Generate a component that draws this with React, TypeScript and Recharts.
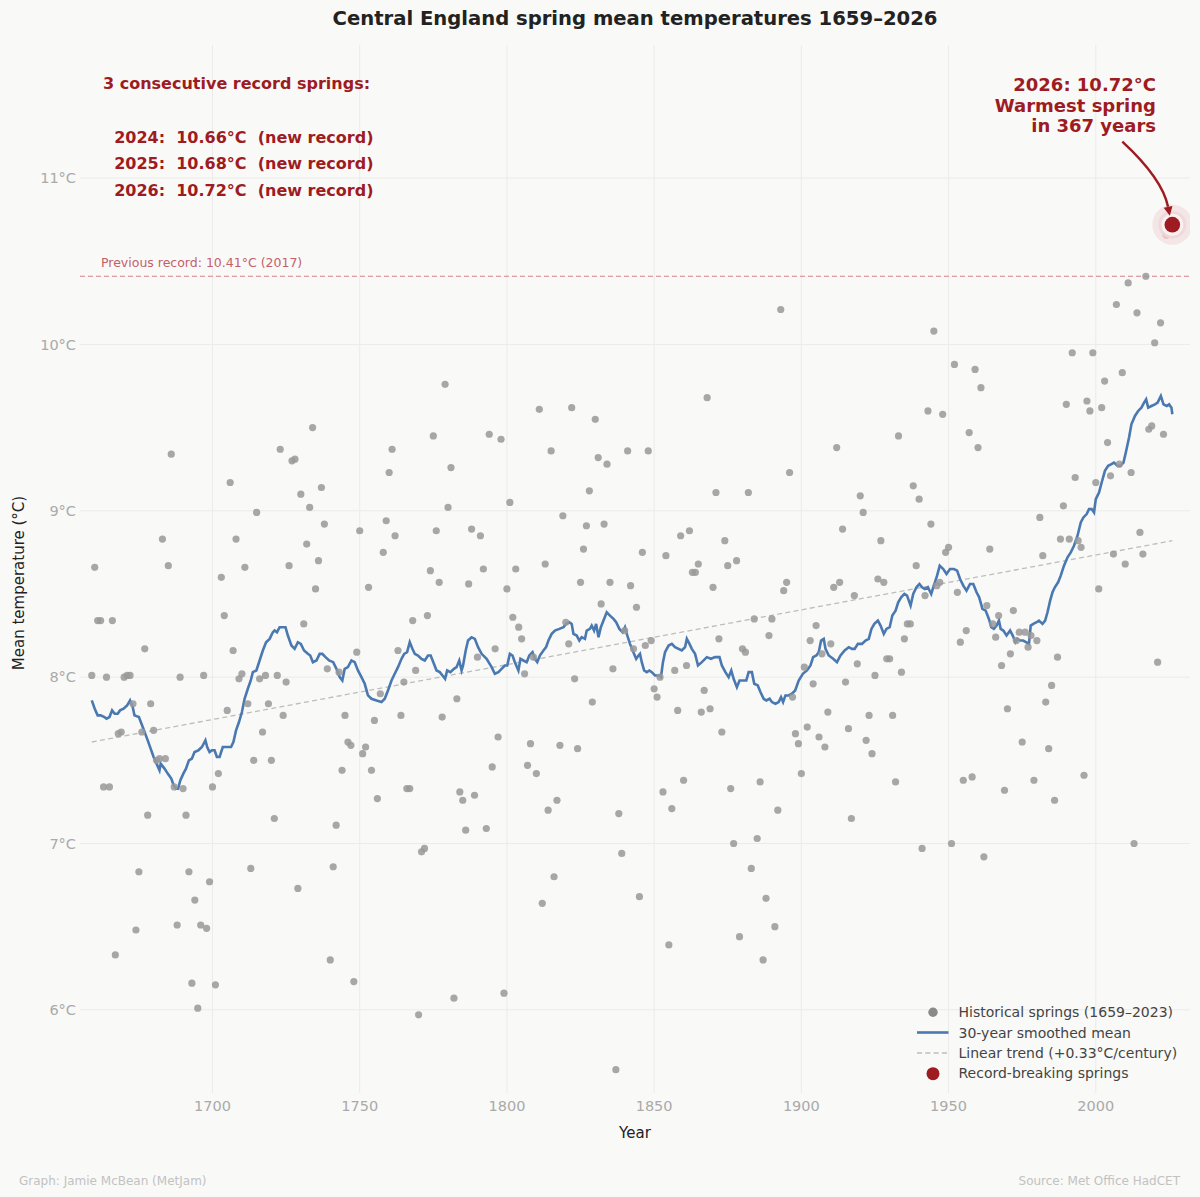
import React from 'react';
import { ComposedChart, Scatter, Line, XAxis, YAxis, CartesianGrid, ReferenceLine } from 'recharts';

const FONT = '"DejaVu Sans", sans-serif';
const BG = '#f9f9f7';
const RED = '#9e1b22';

const FIRST_YEAR = 1659;
// Historical spring mean temperatures, 1659–2023 (one value per year)
const histTemps = [
  8.01, 8.66, 8.34, 8.34, 7.34, 8.0, 7.34, 8.34, 6.33, 7.66, // 1659-1668
  7.67, 8.0, 8.01, 8.01, 7.84, 6.48, 6.83, 7.67, 8.17, 7.17, // 1669-1678
  7.84, 7.68, 7.5, 7.51, 8.83, 7.51, 8.67, 9.34, 7.34, 6.51, // 1679-1688
  8.0, 7.33, 7.17, 6.83, 6.16, 6.66, 6.01, 6.51, 8.01, 6.49, // 1689-1698
  6.77, 7.34, 6.15, 7.42, 8.6, 8.37, 7.8, 9.17, 8.16, 8.83, // 1699-1708
  7.99, 8.02, 8.66, 7.84, 6.85, 7.5, 8.99, 7.99, 7.67, 8.01, // 1709-1718
  7.84, 7.5, 7.15, 8.01, 9.37, 7.77, 7.97, 8.67, 9.3, 9.31, // 1719-1728
  6.73, 9.1, 8.32, 8.8, 9.02, 9.5, 8.53, 8.7, 9.14, 8.92, // 1729-1738
  8.05, 6.3, 6.86, 7.11, 8.03, 7.44, 7.77, 7.61, 7.59, 6.17, // 1739-1748
  8.15, 8.88, 7.54, 7.58, 8.54, 7.44, 7.74, 7.27, 7.9, 8.75, // 1749-1758
  8.94, 9.23, 9.37, 8.85, 8.16, 7.77, 7.97, 7.33, 7.33, 8.34, // 1759-1768
  8.04, 5.97, 6.95, 6.97, 8.37, 8.64, 9.45, 8.88, 8.57, 7.76, // 1769-1778
  9.76, 9.02, 9.26, 6.07, 7.87, 7.31, 7.26, 7.08, 8.56, 8.89, // 1779-1788
  7.29, 8.12, 8.85, 8.65, 7.09, 9.46, 7.46, 8.17, 7.64, 9.43, // 1789-1798
  6.1, 8.53, 9.05, 8.36, 8.65, 8.3, 8.23, 8.02, 7.47, 7.6, // 1799-1808
  8.12, 7.42, 9.61, 6.64, 8.68, 7.2, 9.36, 6.8, 7.26, 7.59, // 1809-1818
  8.97, 8.33, 8.2, 9.62, 7.99, 7.57, 8.57, 8.77, 8.91, 9.12, // 1819-1828
  7.85, 9.55, 9.32, 8.44, 8.92, 9.28, 8.57, 8.05, 5.64, 7.18, // 1829-1838
  6.94, 8.28, 9.36, 8.55, 8.17, 8.42, 6.68, 8.75, 8.19, 9.36, // 1839-1848
  8.22, 7.93, 7.88, 8.0, 7.31, 8.73, 6.39, 7.21, 8.04, 7.8, // 1849-1858
  8.85, 7.38, 8.07, 8.88, 8.63, 8.63, 8.68, 7.79, 7.92, 9.68, // 1859-1868
  7.81, 8.54, 9.11, 8.23, 7.67, 8.82, 8.67, 7.33, 7.0, 8.7, // 1869-1878
  6.44, 8.17, 8.15, 9.11, 6.85, 8.35, 7.03, 7.37, 6.3, 6.67, // 1879-1888
  8.25, 8.35, 6.5, 7.2, 10.21, 8.52, 8.57, 9.23, 7.88, 7.66, // 1889-1898
  7.6, 7.42, 8.06, 7.7, 8.22, 7.96, 8.31, 7.64, 8.14, 7.58, // 1899-1908
  7.79, 8.2, 8.54, 9.38, 8.57, 8.89, 7.97, 7.69, 7.15, 8.49, // 1909-1918
  8.08, 9.09, 8.99, 7.62, 7.77, 7.54, 8.01, 8.59, 8.82, 8.57, // 1919-1928
  8.11, 8.11, 7.77, 7.37, 9.45, 8.03, 8.23, 8.32, 8.32, 9.15, // 1929-1938
  8.67, 9.07, 6.97, 8.49, 9.6, 8.92, 10.08, 8.55, 8.57, 9.58, // 1939-1948
  8.75, 8.78, 7.0, 9.88, 8.51, 8.21, 7.38, 8.28, 9.47, 7.4, // 1949-1958
  9.85, 9.38, 9.74, 6.92, 8.43, 8.77, 8.32, 8.24, 8.37, 8.07, // 1959-1968
  7.32, 7.81, 8.14, 8.4, 8.22, 8.27, 7.61, 8.27, 8.18, 8.25, // 1969-1978
  7.38, 8.22, 8.96, 8.73, 7.85, 7.57, 7.95, 7.26, 8.12, 8.83, // 1979-1988
  9.03, 9.64, 8.83, 9.95, 9.2, 8.82, 8.78, 7.41, 9.66, 9.6, // 1989-1998
  9.95, 9.17, 8.53, 9.62, 9.78, 9.41, 9.21, 8.74, 10.24, 9.28, // 1999-2008
  9.83, 8.68, 10.37, 9.23, 7.0, 10.19, 8.87, 8.74, 10.41, 9.49, // 2009-2018
  9.51, 10.01, 8.09, 10.13, 9.46, // 2019-2023
];

const recordYears = [2024, 2025, 2026];
const recordTemps = [10.66, 10.68, 10.72];

const trendYears = [1659, 2026];
const trendTemps = [7.61, 8.82];

const previousRecord = 10.41;

// 30-year smoothed mean
const smoothYears = [
  1659, 1660, 1661, 1662, 1663.3, 1664, 1665, 1665.9, 1666.8, 1667.8, 1668.6, 1669.8, 1671, 1672, 1672.9, 1673.5,
  1675, 1676.3, 1678, 1680, 1681, 1682, 1682.4, 1683.7, 1684.8, 1686, 1686.8, 1687.6, 1688.3, 1689.1, 1690.1, 1691,
  1692, 1693, 1693.9, 1695.2, 1696.4, 1697.6, 1698.2, 1699, 1699.8, 1700.7, 1701.5, 1702.4, 1703.5, 1704.6, 1706.3,
  1707.1, 1708, 1709, 1710, 1710.9, 1712, 1713, 1713.7, 1714.9, 1716, 1717.1, 1718.2, 1719.4, 1720.5, 1721.1, 1721.9,
  1722.8, 1723.9, 1724.8, 1725.6, 1726.8, 1727.9, 1729, 1730, 1731.1, 1732.4, 1733.2, 1734.1, 1735.3, 1736.4, 1737.3,
  1738.4, 1739.6, 1741, 1742.1, 1743.2, 1744.1, 1744.9, 1746, 1747.2, 1748.3, 1749.4, 1750.6, 1751.7, 1752.8, 1754,
  1755.7, 1757.4, 1758.5, 1759.6, 1760.8, 1761.9, 1763, 1764.2, 1765.1, 1766.1, 1767, 1767.9, 1768.7, 1769.8, 1771,
  1772.1, 1773.2, 1774.1, 1775, 1776.1, 1777.2, 1778.1, 1779, 1779.7, 1780.8, 1782, 1782.9, 1783.8, 1784.6, 1785.1,
  1786, 1786.8, 1788, 1789.1, 1790.2, 1791.4, 1793.1, 1794.8, 1795.9, 1797.1, 1798.2, 1799.3, 1800.1, 1801, 1801.9,
  1802.7, 1803.9, 1804.6, 1805.6, 1806.7, 1807.6, 1808.7, 1809.5, 1810.3, 1811.2, 1812.4, 1813.3, 1814.1, 1815.2,
  1816.3, 1817.8, 1819.2, 1820.1, 1821.2, 1822, 1822.6, 1823.7, 1824.6, 1825.4, 1826.5, 1827.1, 1828.2, 1828.8,
  1829.6, 1830.3, 1831.1, 1831.9, 1832.8, 1833.9, 1835, 1836.2, 1837.1, 1838.2, 1839.3, 1840.1, 1840.9, 1841.8,
  1842.7, 1843.9, 1844.7, 1845.2, 1845.8, 1846.6, 1847.5, 1848.4, 1849.2, 1850.3, 1851.5, 1852.3, 1853, 1853.7,
  1854.9, 1856, 1857.1, 1858.3, 1859.4, 1860.5, 1861.1, 1862, 1862.8, 1863.9, 1864.9, 1866.2, 1867.9, 1869.3, 1870.7,
  1872.2, 1873, 1874.2, 1875.3, 1876.2, 1877, 1878.1, 1879, 1880.2, 1881.3, 1882.1, 1883.2, 1884, 1885.2, 1886.1,
  1887.2, 1888.1, 1889.2, 1890, 1891.2, 1892.3, 1893.1, 1893.8, 1894.6, 1895.7, 1896.8, 1897.9, 1899.1, 1900.5,
  1901.9, 1903.1, 1904, 1905.1, 1905.9, 1906.7, 1907.6, 1908.2, 1909.3, 1910.8, 1912.1, 1913.3, 1914.7, 1916.1,
  1917.2, 1918.1, 1919.2, 1920.6, 1921.8, 1922.9, 1923.8, 1924.8, 1926, 1926.9, 1928, 1928.9, 1930, 1930.9, 1932,
  1932.9, 1933.9, 1935, 1935.9, 1937.1, 1938, 1939.1, 1940.1, 1941, 1941.9, 1943, 1944.1, 1945, 1946.1, 1947, 1948.2,
  1949.3, 1950.5, 1951.8, 1952.9, 1953.9, 1955, 1956.1, 1957.3, 1958.4, 1959.5, 1960.4, 1961.5, 1962.6, 1963.7,
  1964.5, 1965.4, 1966.3, 1967.1, 1967.7, 1968.6, 1969.7, 1970.9, 1971.8, 1972.7, 1973.4, 1974.3, 1975.3, 1976.3,
  1977.3, 1977.9, 1978.8, 1979.9, 1980.7, 1981.9, 1982.8, 1983.6, 1984.5, 1985.3, 1986.1, 1987.2, 1988.1, 1989.2,
  1990.4, 1991.5, 1992.6, 1993.8, 1994.9, 1995.8, 1996.9, 1997.7, 1998.6, 1999.4, 2000, 2001.1, 2002, 2003.1,
  2004.2, 2005.3, 2006.2, 2007.4, 2008.3, 2009.4, 2010.2, 2011.3, 2012.1, 2013.3, 2014.4, 2015.5, 2016.4, 2017.1,
  2017.8, 2018.9, 2020.1, 2021, 2022.1, 2023, 2024.1, 2024.9, 2025.7, 2026,
];
const smoothTemps = [
  7.86, 7.81, 7.77, 7.77, 7.76, 7.75, 7.76, 7.8, 7.78, 7.78, 7.8, 7.81, 7.83, 7.86, 7.82, 7.77,
  7.76, 7.7, 7.62, 7.52, 7.48, 7.44, 7.48, 7.45, 7.42, 7.39, 7.35, 7.33, 7.33, 7.38, 7.42, 7.45,
  7.5, 7.51, 7.55, 7.56, 7.58, 7.62, 7.58, 7.55, 7.56, 7.56, 7.52, 7.52, 7.58, 7.58, 7.58,
  7.61, 7.68, 7.73, 7.79, 7.87, 7.93, 7.98, 8.03, 8.04, 8.1, 8.16, 8.21, 8.23, 8.27, 8.28, 8.27,
  8.3, 8.3, 8.3, 8.25, 8.19, 8.17, 8.21, 8.2, 8.16, 8.14, 8.13, 8.09, 8.1, 8.14, 8.14,
  8.12, 8.1, 8.09, 8.05, 8.0, 7.98, 8.05, 8.06, 8.1, 8.09, 8.04, 8.0, 7.96, 7.89, 7.87,
  7.86, 7.85, 7.87, 7.92, 7.98, 8.02, 8.06, 8.11, 8.14, 8.15, 8.21, 8.17, 8.14, 8.13, 8.11,
  8.1, 8.13, 8.13, 8.09, 8.04, 8.03, 8.01, 7.99, 8.04, 8.03, 8.05, 8.06, 8.1, 8.04, 8.07,
  8.16, 8.22, 8.24, 8.23, 8.18, 8.14, 8.11, 8.06, 8.02, 8.03, 8.05, 8.07, 8.07, 8.14, 8.13,
  8.09, 8.04, 8.11, 8.1, 8.09, 8.13, 8.15, 8.11, 8.09, 8.13, 8.16, 8.18, 8.22, 8.26,
  8.28, 8.29, 8.3, 8.32, 8.33, 8.32, 8.26, 8.25, 8.22, 8.24, 8.23, 8.28, 8.29, 8.31,
  8.28, 8.32, 8.24, 8.3, 8.34, 8.39, 8.37, 8.35, 8.33, 8.29, 8.27, 8.3, 8.25, 8.2,
  8.16, 8.11, 8.13, 8.14, 8.09, 8.04, 8.03, 8.04, 8.03, 8.01, 8.01, 8.0, 8.09, 8.15,
  8.19, 8.2, 8.18, 8.17, 8.16, 8.18, 8.23, 8.2, 8.17, 8.14, 8.07, 8.09, 8.12, 8.11, 8.12,
  8.12, 8.07, 8.03, 8.0, 8.04, 7.99, 7.94, 7.98, 7.98, 7.98, 8.03, 8.03, 7.96, 7.95, 7.91,
  7.87, 7.86, 7.87, 7.85, 7.84, 7.85, 7.88, 7.85, 7.89, 7.89, 7.9, 7.92, 7.98, 8.02,
  8.04, 8.07, 8.12, 8.13, 8.15, 8.22, 8.23, 8.17, 8.13, 8.11, 8.09, 8.13, 8.16, 8.18,
  8.17, 8.17, 8.2, 8.2, 8.22, 8.23, 8.29, 8.32, 8.34, 8.31, 8.26, 8.29, 8.3, 8.37, 8.4,
  8.45, 8.48, 8.5, 8.49, 8.43, 8.5, 8.54, 8.56, 8.54, 8.53, 8.54, 8.5, 8.55, 8.61, 8.67, 8.65,
  8.62, 8.65, 8.65, 8.64, 8.59, 8.55, 8.52, 8.56, 8.56, 8.51, 8.48, 8.41, 8.4, 8.35,
  8.3, 8.29, 8.31, 8.34, 8.29, 8.28, 8.25, 8.28, 8.25, 8.21, 8.23, 8.22, 8.22, 8.21,
  8.2, 8.31, 8.32, 8.33, 8.34, 8.32, 8.34, 8.39, 8.46, 8.51, 8.54, 8.57, 8.61, 8.67,
  8.72, 8.75, 8.79, 8.85, 8.93, 8.96, 8.98, 9.01, 9.01, 8.99, 9.07, 9.11, 9.17, 9.24,
  9.27, 9.28, 9.29, 9.27, 9.27, 9.29, 9.35, 9.44, 9.52, 9.57, 9.6, 9.62, 9.65, 9.67,
  9.62, 9.63, 9.64, 9.65, 9.69, 9.64, 9.63, 9.64, 9.62, 9.58,
];

const xTicks = [1700, 1750, 1800, 1850, 1900, 1950, 2000];
const yTicks = [6, 7, 8, 9, 10, 11];

const histData = histTemps.map((t, i) => ({ year: FIRST_YEAR + i, temp: t }));
const recordData = recordYears.map((y, i) => ({ year: y, temp: recordTemps[i] }));
const trendData = trendYears.map((y, i) => ({ year: y, temp: trendTemps[i] }));
const smoothData = smoothYears.map((y, i) => ({ year: y, temp: smoothTemps[i] }));
const lastRecordYear = recordYears[recordYears.length - 1];

const YTick = (props: any) => {
  const { x, y, payload } = props;
  return (
    <text x={x - 4} y={y + 5.3} textAnchor="end" fontSize={14.5} fill="#aaaaaa" fontFamily={FONT}>
      {`${payload.value}°C`}
    </text>
  );
};

const XTick = (props: any) => {
  const { x, y, payload } = props;
  return (
    <text x={x} y={y + 18} textAnchor="middle" fontSize={14.5} fill="#aaaaaa" fontFamily={FONT}>
      {payload.value}
    </text>
  );
};

const HistDot = (props: any) => {
  const { cx, cy } = props;
  if (cx == null || cy == null) return null;
  return <circle cx={cx} cy={cy} r={3.6} fill="#999999" fillOpacity={0.85} />;
};

const RecordDot = (props: any) => {
  const { cx, cy, payload } = props;
  if (cx == null || cy == null) return null;
  const isLast = payload && payload.year === lastRecordYear;
  if (!isLast) {
    return <circle cx={cx} cy={cy} r={5} fill={RED} stroke="#ffffff" strokeWidth={1.5} />;
  }
  // curved annotation arrow ending just above the point
  const sx = cx - 50, sy = cy - 83;
  const qx = cx - 10, qy = cy - 46;
  const tx = cx - 2.5, ty = cy - 9;
  const dx = tx - qx, dy = ty - qy;
  const len = Math.sqrt(dx * dx + dy * dy);
  const ux = dx / len, uy = dy / len;
  const bx = tx - ux * 9, by = ty - uy * 9;
  const nx = -uy, ny = ux;
  return (
    <g>
      <circle cx={cx} cy={cy} r={20} fill="#f3e3e3" fillOpacity={0.85} />
      <circle cx={cx} cy={cy} r={14} fill="#efd6d6" fillOpacity={0.8} />
      <circle cx={cx} cy={cy} r={11} fill="#fbf3f3" fillOpacity={0.9} />
      <circle cx={cx} cy={cy} r={7.8} fill={RED} />
      <path d={`M${sx},${sy} Q${qx},${qy} ${bx},${by}`} fill="none" stroke={RED} strokeWidth={2.5} />
      <path
        d={`M${tx},${ty} L${bx + nx * 4.5},${by + ny * 4.5} L${bx - nx * 4.5},${by - ny * 4.5} Z`}
        fill={RED}
      />
    </g>
  );
};

export default function App() {
  const textStyle: React.CSSProperties = { whiteSpace: 'pre' };
  return (
    <div style={{ position: 'absolute', left: 0, top: 0, width: 1200, height: 1197, background: BG, fontFamily: FONT }}>
      <ComposedChart
        width={1200}
        height={1197}
        margin={{ top: 45, right: 10, bottom: 0, left: 0 }}
        style={{ position: 'absolute', left: 0, top: 0 }}
      >
        <CartesianGrid stroke="#ebebeb" strokeWidth={1} horizontalValues={yTicks} verticalValues={xTicks} />
        <XAxis
          type="number"
          dataKey="year"
          domain={[1655, 2032]}
          ticks={xTicks}
          allowDataOverflow
          axisLine={false}
          tickLine={false}
          tickSize={0}
          tickMargin={0}
          height={104}
          tick={<XTick />}
        />
        <YAxis
          type="number"
          dataKey="temp"
          domain={[5.5, 11.8]}
          ticks={yTicks}
          allowDataOverflow
          axisLine={false}
          tickLine={false}
          tickSize={0}
          tickMargin={0}
          width={80}
          tick={<YTick />}
        />
        <ReferenceLine y={previousRecord} stroke="#d98088" strokeWidth={1.2} strokeDasharray="5 3" />
        <Scatter data={histData} dataKey="temp" shape={<HistDot />} isAnimationActive={false} />
        <Line
          data={trendData}
          dataKey="temp"
          type="linear"
          stroke="#bdbdbd"
          strokeWidth={1.3}
          strokeDasharray="5 3.3"
          dot={false}
          activeDot={false}
          isAnimationActive={false}
        />
        <Line
          data={smoothData}
          dataKey="temp"
          type="linear"
          stroke="#4a78b1"
          strokeWidth={2.6}
          dot={false}
          activeDot={false}
          isAnimationActive={false}
        />
        <Scatter data={recordData} dataKey="temp" shape={<RecordDot />} isAnimationActive={false} />
      </ComposedChart>

      <svg width={1200} height={1197} style={{ position: 'absolute', left: 0, top: 0, pointerEvents: 'none' }}>
        <text x={635} y={25} textAnchor="middle" fontSize={19.6} fontWeight="bold" fill="#222222" fontFamily={FONT}>
          Central England spring mean temperatures 1659–2026
        </text>

        <g fontFamily={FONT} fontWeight="bold" fontSize={16} fill={RED} style={textStyle}>
          <text x={103} y={89} style={textStyle}>3 consecutive record springs:</text>
          {recordYears.map((yr, i) => (
            <text key={yr} x={103} y={142.5 + i * 26.7} style={textStyle}>
              {`  ${yr}:  ${recordTemps[i].toFixed(2)}°C  (new record)`}
            </text>
          ))}
        </g>

        <g fontFamily={FONT} fontWeight="bold" fontSize={18} fill={RED} textAnchor="end">
          <text x={1156} y={91}>{`${lastRecordYear}: ${recordTemps[recordTemps.length - 1].toFixed(2)}°C`}</text>
          <text x={1156} y={111.5}>Warmest spring</text>
          <text x={1156} y={131.5}>in 367 years</text>
        </g>

        <text x={101} y={266.5} fontSize={12.5} fill="#c4606a" fontFamily={FONT}>
          Previous record: 10.41°C (2017)
        </text>

        <text
          x={23.5}
          y={583}
          transform="rotate(-90 23.5 583)"
          textAnchor="middle"
          fontSize={15}
          fill="#222222"
          fontFamily={FONT}
        >
          Mean temperature (°C)
        </text>
        <text x={635} y={1138} textAnchor="middle" fontSize={15} fill="#222222" fontFamily={FONT}>
          Year
        </text>

        <g fontFamily={FONT} fontSize={14} fill="#444444">
          <circle cx={933} cy={1012.3} r={4.7} fill="#8a8a8a" />
          <text x={958.5} y={1017.3}>Historical springs (1659–2023)</text>
          <line x1={917} y1={1032.5} x2={948.5} y2={1032.5} stroke="#4a78b1" strokeWidth={2.6} />
          <text x={958.5} y={1037.7}>30-year smoothed mean</text>
          <line x1={917} y1={1053} x2={948.5} y2={1053} stroke="#bdbdbd" strokeWidth={1.3} strokeDasharray="5 3.3" />
          <text x={958.5} y={1058}>Linear trend (+0.33°C/century)</text>
          <circle cx={933} cy={1073.7} r={6.5} fill={RED} />
          <text x={958.5} y={1078.3}>Record-breaking springs</text>
        </g>

        <text x={19} y={1185} fontSize={12} fill="#c2c2c2" fontFamily={FONT}>
          Graph: Jamie McBean (MetJam)
        </text>
        <text x={1180} y={1185} textAnchor="end" fontSize={12} fill="#c2c2c2" fontFamily={FONT}>
          Source: Met Office HadCET
        </text>
      </svg>
    </div>
  );
}
